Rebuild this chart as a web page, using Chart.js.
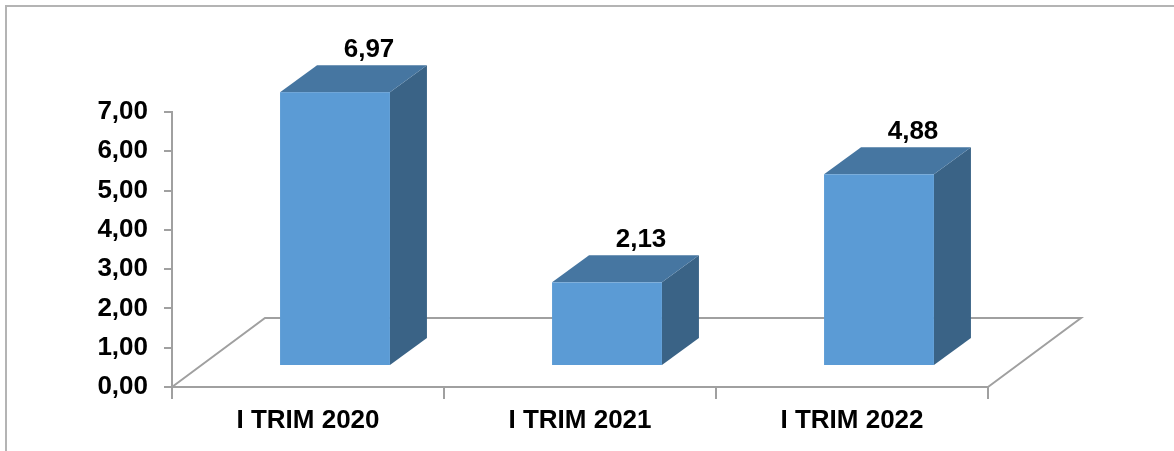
<!DOCTYPE html>
<html>
<head>
<meta charset="utf-8">
<script src="https://cdn.jsdelivr.net/npm/chart.js@4"></script>
<style>
  html, body { margin: 0; padding: 0; background: #fff; }
  #wrap { width: 1174px; height: 451px; position: relative; }
</style>
</head>
<body>
<div id="wrap"><canvas id="trimChart" width="1174" height="451"></canvas></div>
<script>
const categories = ["I TRIM 2020", "I TRIM 2021", "I TRIM 2022"];
const values = [6.97, 2.13, 4.88];
const yTicks = [0, 1, 2, 3, 4, 5, 6, 7];

const FONT = "'Liberation Sans', Arial, sans-serif";

// 3D look: floor depth and bar depth in px
const floorDepth = { x: 93, y: -69 };
const barShift = { x: 27, y: -21 };
const barDepth = { x: 37, y: -27 };

function fmt(v) {
    return v.toFixed(2).replace(".", ",");
}

const frame = {
    id: "frame",
    beforeDraw(chart) {
        const c = chart.ctx;
        c.save();
        c.strokeStyle = "#b4b4b4";
        c.lineWidth = 2;
        c.beginPath();
        c.moveTo(6, 460);
        c.lineTo(6, 6);
        c.lineTo(1180, 6);
        c.stroke();
        c.restore();
    }
};

const floor3d = {
    id: "floor3d",
    beforeDatasetsDraw(chart) {
        const c = chart.ctx;
        const x = chart.scales.x, y = chart.scales.y;
        const y0 = y.getPixelForValue(0);
        c.save();
        c.strokeStyle = "#a0a0a0";
        c.lineWidth = 2;
        c.beginPath();
        c.moveTo(x.left, y0);
        c.lineTo(x.left + floorDepth.x, y0 + floorDepth.y);
        c.lineTo(x.right + floorDepth.x, y0 + floorDepth.y);
        c.lineTo(x.right, y0);
        c.stroke();
        c.restore();
    }
};

const bars3d = {
    id: "bars3d",
    afterDatasetsDraw(chart) {
        const c = chart.ctx;
        const meta = chart.getDatasetMeta(0);
        c.save();
        meta.data.forEach((bar, i) => {
            const w = bar.width;
            const l = bar.x - w / 2 + barShift.x;
            const r = bar.x + w / 2 + barShift.x;
            const t = bar.y + barShift.y;
            const b = bar.base + barShift.y;

            // side
            c.fillStyle = "#3a6386";
            c.beginPath();
            c.moveTo(r, b);
            c.lineTo(r + barDepth.x, b + barDepth.y);
            c.lineTo(r + barDepth.x, t + barDepth.y);
            c.lineTo(r, t);
            c.closePath();
            c.fill();

            // top
            c.fillStyle = "#4676a1";
            c.beginPath();
            c.moveTo(l, t);
            c.lineTo(l + barDepth.x, t + barDepth.y);
            c.lineTo(r + barDepth.x, t + barDepth.y);
            c.lineTo(r, t);
            c.closePath();
            c.fill();

            // front
            c.fillStyle = "#5b9bd5";
            c.fillRect(l, t, w, b - t);

            // value label
            c.fillStyle = "#000";
            c.font = "bold 26px " + FONT;
            c.textAlign = "center";
            c.textBaseline = "middle";
            c.fillText(fmt(values[i]), bar.x + barShift.x + 34, t - 42);
        });
        c.restore();
    }
};

new Chart(document.getElementById("trimChart"), {
    type: "bar",
    data: {
        labels: categories,
        datasets: [{
            data: values,
            backgroundColor: "rgba(0,0,0,0)",
            categoryPercentage: 1,
            barPercentage: 0.404
        }]
    },
    options: {
        responsive: false,
        animation: false,
        events: [],
        layout: {
            padding: { top: 112, right: 186, left: 0, bottom: 0 }
        },
        plugins: {
            legend: { display: false },
            tooltip: { enabled: false }
        },
        scales: {
            x: {
                afterFit(scale) { scale.height = 64; },
                grid: {
                    drawOnChartArea: false,
                    color: "#a0a0a0",
                    lineWidth: 2,
                    tickLength: 12
                },
                border: { color: "#a0a0a0", width: 2 },
                ticks: {
                    color: "#000",
                    padding: 6,
                    font: { family: FONT, size: 26, weight: "bold" }
                }
            },
            y: {
                min: 0,
                max: 7,
                afterFit(scale) { scale.width = 172; },
                afterBuildTicks(scale) {
                    scale.ticks = yTicks.map(v => ({ value: v }));
                },
                grid: {
                    drawOnChartArea: false,
                    color: "#a0a0a0",
                    lineWidth: 2,
                    tickLength: 8
                },
                border: { color: "#a0a0a0", width: 2 },
                ticks: {
                    color: "#000",
                    padding: 16,
                    font: { family: FONT, size: 26, weight: "bold" },
                    callback: v => fmt(v)
                }
            }
        }
    },
    plugins: [frame, floor3d, bars3d]
});
</script>
</body>
</html>
